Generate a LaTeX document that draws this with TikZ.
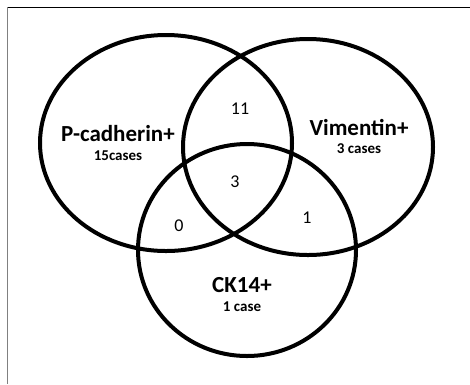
\documentclass[tikz,border=0pt]{standalone}
\usepackage{fontspec}
\setmainfont{Carlito}
\begin{document}
\begin{tikzpicture}[x=1pt,y=-1pt,
  setline/.style={line width=4pt},
  big/.style={font=\fontsize{23}{25}\selectfont\bfseries},
  small/.style={font=\fontsize{15}{17}\selectfont\bfseries},
  num/.style={font=\fontsize{18}{20}\selectfont}]
\useasboundingbox (0,0) rectangle (470,384);
\fill[white] (0,0) rectangle (470,384);
\draw[black, line width=1.2pt] (7,7.5) -- (470,7.5);
\draw[gray, line width=1.6pt] (7.5,7) -- (7.5,384);
\draw[setline] (166,143) ellipse [x radius=126, y radius=108];
\draw[setline] (308,147) ellipse [x radius=125, y radius=108];
\draw[setline] (247,250) ellipse [x radius=109, y radius=106];
\node[big] (pc) at (118,134) {P-cadherin+};
\node[small] (pcn) at (118,156) {15cases};
\node[big] (vim) at (359,127) {Vimentin+};
\node[small] (vimn) at (359,149) {3 cases};
\node[big] (ck) at (242,285) {CK14+};
\node[small] (ckn) at (242,307) {1 case};
\node[num] (n11) at (240,109) {11};
\node[num] (n3) at (235,182) {3};
\node[num] (n0) at (179,226) {0};
\node[num] (n1) at (307,218) {1};
\end{tikzpicture}
\end{document}
